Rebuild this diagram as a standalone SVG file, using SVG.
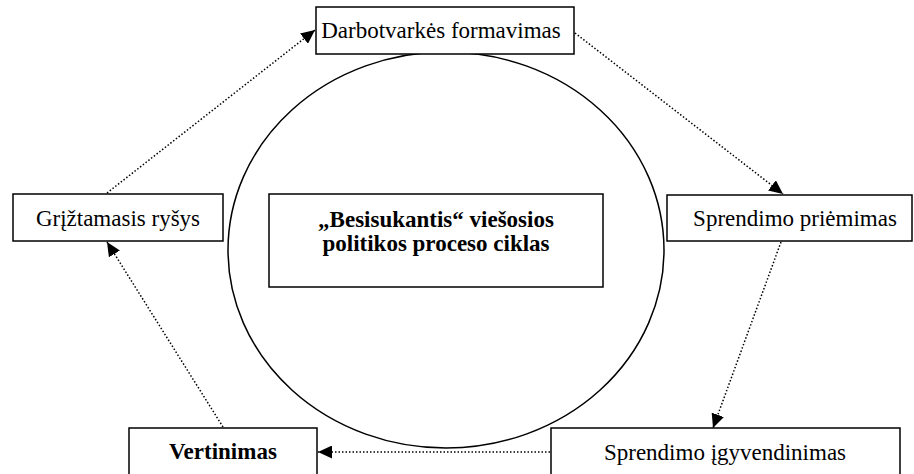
<svg xmlns="http://www.w3.org/2000/svg" width="914" height="474" viewBox="0 0 914 474">
<style>
.box{fill:#fff;stroke:#000;stroke-width:1.5}
.t{font-family:"Liberation Serif","Times New Roman",serif;font-size:23px;fill:#000;text-anchor:middle}
.b{font-weight:bold}
.c{fill:none;stroke:#000;stroke-width:1.5;stroke-dasharray:1.5 2;marker-end:url(#ah)}
</style>
<defs>
<marker id="ah" markerUnits="userSpaceOnUse" markerWidth="15" markerHeight="13" refX="14" refY="6.5" orient="auto">
<path d="M0,0 L14,6.5 L0,13 Z" fill="#000"/>
</marker>
</defs>
<rect width="914" height="474" fill="#fff"/>
<g id="cycle">
<ellipse cx="446" cy="250" rx="218" ry="198" fill="none" stroke="#000" stroke-width="1.5"/>
</g>
<g id="connectors">
<line class="c" x1="107" y1="193" x2="315" y2="30"/>
<line class="c" x1="575" y1="33" x2="783" y2="194"/>
<line class="c" x1="781" y1="242" x2="713" y2="428"/>
<line class="c" x1="550" y1="452" x2="318" y2="452"/>
<line class="c" x1="223" y1="427" x2="107" y2="242"/>
</g>
<g id="darbotvarke">
<rect class="box" x="316" y="7" width="258" height="47"/>
<text class="t" x="441" y="38">Darbotvarkės formavimas</text>
</g>
<g id="griztamasis">
<rect class="box" x="13" y="194" width="210" height="47"/>
<text class="t" x="118" y="226">Grįžtamasis ryšys</text>
</g>
<g id="priemimas">
<rect class="box" x="667" y="195" width="245" height="46"/>
<text class="t" x="795" y="226">Sprendimo priėmimas</text>
</g>
<g id="centras">
<rect class="box" x="269" y="194" width="334" height="93"/>
<text class="t b" x="436" y="227">„Besisukantis“ viešosios</text>
<text class="t b" x="436" y="251">politikos proceso ciklas</text>
</g>
<g id="vertinimas">
<rect class="box" x="129" y="428" width="188" height="60"/>
<text class="t b" x="223" y="459">Vertinimas</text>
</g>
<g id="igyvendinimas">
<rect class="box" x="551" y="428" width="349" height="60"/>
<text class="t" x="725" y="460">Sprendimo įgyvendinimas</text>
</g>
</svg>
